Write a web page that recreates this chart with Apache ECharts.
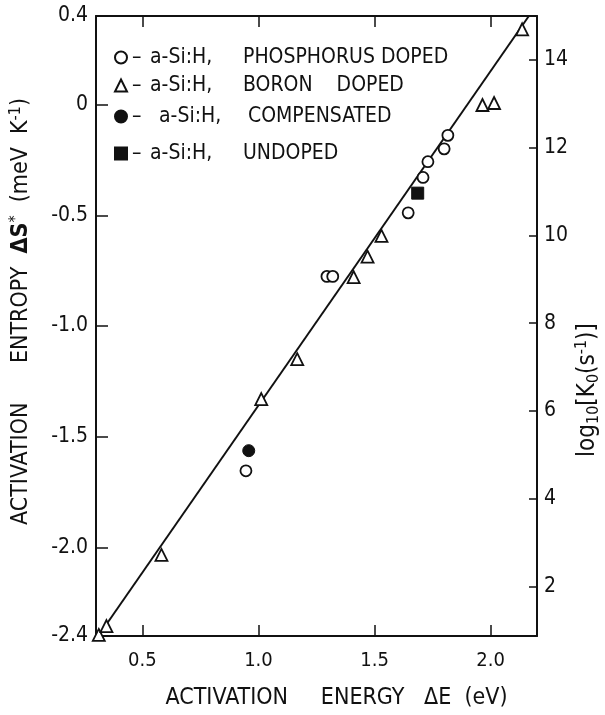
<!DOCTYPE html>
<html>
<head>
<meta charset="utf-8">
<script src="https://cdn.jsdelivr.net/npm/echarts@6/dist/echarts.min.js"></script>
<style>
html,body{margin:0;padding:0;background:#fff;}
#chart{width:605px;height:715px;}
</style>
</head>
<body>
<div id="chart"></div>
<script>
// ---- data (ΔE in eV, ΔS* in meV/K) ----
var phosphorus = [[0.946,-1.654],[1.295,-0.776],[1.32,-0.776],[1.645,-0.489],[1.709,-0.329],[1.73,-0.258],[1.80,-0.20],[1.816,-0.139]];
var boron = [[0.312,-2.395],[0.345,-2.355],[0.582,-2.034],[1.012,-1.33],[1.167,-1.15],[1.41,-0.779],[1.47,-0.687],[1.53,-0.593],[1.965,-0.002],[2.015,0.007],[2.136,0.34]];
var compensated = [[0.958,-1.563]];
var undoped = [[1.686,-0.40]];
var fitLine = [[0.31,-2.40],[2.165,0.40]];
var xTicks = [0.5,1.0,1.5,2.0];
var leftTicks = [0.4,0,-0.5,-1.0,-1.5,-2.0,-2.4];
var rightTicks = [2,4,6,8,10,12,14];
var names = ['a-Si:H, PHOSPHORUS DOPED','a-Si:H, BORON    DOPED','a-Si:H, COMPENSATED','a-Si:H, UNDOPED'];

var FONT = "'DejaVu Sans Condensed','Liberation Sans Narrow','DejaVu Sans',sans-serif";
var INK = '#111';
var legendTops = [47, 75, 106, 143];

function legendFor(i){
  return {
    data:[names[i]],orient:'vertical',left:114,top:legendTops[i],
    itemWidth:12,itemHeight:12,padding:0,
    formatter:function(n){
      var parts = n.split(', ');
      if(i===2) return '{d2|–}{a2|' + parts[0] + ',}{w|' + parts[1] + '}';
      return '{d|–}{a|' + parts[0] + ',}{w|' + parts[1] + '}';
    },
    textStyle:{fontFamily:FONT,fontSize:21,color:INK,rich:{
      d:{fontFamily:FONT,fontSize:21,color:INK,width:18},
      d2:{fontFamily:FONT,fontSize:21,color:INK,width:27},
      a:{fontFamily:FONT,fontSize:21,color:INK,width:93},
      a2:{fontFamily:FONT,fontSize:21,color:INK,width:89},
      w:{fontFamily:FONT,fontSize:21,color:INK}
    }}
  };
}

var chart = echarts.init(document.getElementById('chart'));
chart.setOption({
  backgroundColor:'#fff',
  animation:false,
  textStyle:{fontFamily:FONT,color:INK},
  grid:{left:93,right:68,top:16,bottom:72,containLabel:false},
  legend:[legendFor(0),legendFor(1),legendFor(2),legendFor(3)],
  xAxis:[{
    type:'value',min:0.3,max:2.2,position:'bottom',
    axisLine:{onZero:false,lineStyle:{color:INK,width:2}},
    name:'ACTIVATION     ENERGY   ΔE  (eV)',nameLocation:'middle',nameGap:51,
    nameTextStyle:{fontFamily:FONT,fontSize:23,color:INK,padding:[0,0,0,40]},
    axisTick:{inside:true,length:11,customValues:xTicks,lineStyle:{color:INK,width:1.5}},
    axisLabel:{customValues:xTicks,margin:15,fontSize:20,color:INK,fontFamily:FONT,formatter:function(v){return v.toFixed(1);}},
    splitLine:{show:false}
  },{
    type:'value',min:0.3,max:2.2,position:'top',
    axisLine:{onZero:false,lineStyle:{color:INK,width:2}},
    axisTick:{inside:true,length:11,customValues:xTicks,lineStyle:{color:INK,width:1.5}},
    axisLabel:{show:false},splitLine:{show:false}
  }],
  yAxis:[{
    type:'value',min:-2.4,max:0.4,position:'left',
    axisLine:{onZero:false,lineStyle:{color:INK,width:2}},
    name:'ACTIVATION      ENTROPY  {s|ΔS}{sup|*}  (meV  K{sup|-1})',nameLocation:'middle',nameGap:62,nameRotate:90,
    nameTextStyle:{fontFamily:FONT,fontSize:23,color:INK,padding:[0,0,0,29],rich:{
      s:{fontFamily:FONT,fontSize:23,fontWeight:'bold',color:INK},
      sup:{fontFamily:FONT,fontSize:16,color:INK,verticalAlign:'top',padding:[0,0,10,0]}
    }},
    axisTick:{inside:true,length:12,customValues:leftTicks,lineStyle:{color:INK,width:1.5}},
    axisLabel:{customValues:leftTicks,margin:8,fontSize:21,color:INK,fontFamily:FONT,
      formatter:function(v){return Math.abs(v)<1e-9?'0':v.toFixed(1);}},
    splitLine:{show:false}
  },{
    type:'value',min:0.88,max:14.99,position:'right',
    axisLine:{onZero:false,lineStyle:{color:INK,width:2}},
    axisTick:{inside:true,length:8,customValues:rightTicks,lineStyle:{color:INK,width:1.5}},
    axisLabel:{customValues:rightTicks,margin:7,fontSize:21,color:INK,fontFamily:FONT},
    splitLine:{show:false}
  }],
  graphic:[{
    type:'text',x:588,y:390,rotation:Math.PI/2,
    style:{text:'log{sb|10}[K{sb|0}(s{sp|-1})]',fontFamily:FONT,fontSize:24,fill:INK,align:'center',verticalAlign:'middle',
      rich:{sb:{fontFamily:FONT,fontSize:16,fill:INK,padding:[12,0,0,0]},sp:{fontFamily:FONT,fontSize:16,fill:INK,padding:[0,0,12,0]}}}
  }],
  series:[
    {type:'line',data:fitLine,showSymbol:false,symbol:'none',lineStyle:{color:INK,width:2},z:1,silent:true},
    {name:names[0],type:'scatter',data:phosphorus,symbol:'circle',symbolSize:11,
     itemStyle:{color:'#fff',borderColor:INK,borderWidth:1.8,opacity:1},z:3},
    {name:names[1],type:'scatter',data:boron,symbol:'triangle',symbolSize:12,
     itemStyle:{color:'#fff',borderColor:INK,borderWidth:1.8,opacity:1},z:3},
    {name:names[2],type:'scatter',data:compensated,symbol:'circle',symbolSize:12,
     itemStyle:{color:INK,borderColor:INK,borderWidth:1,opacity:1},z:3},
    {name:names[3],type:'scatter',data:undoped,symbol:'rect',symbolSize:12,
     itemStyle:{color:INK,borderColor:INK,borderWidth:1,opacity:1},z:3}
  ]
});
</script>
</body>
</html>
